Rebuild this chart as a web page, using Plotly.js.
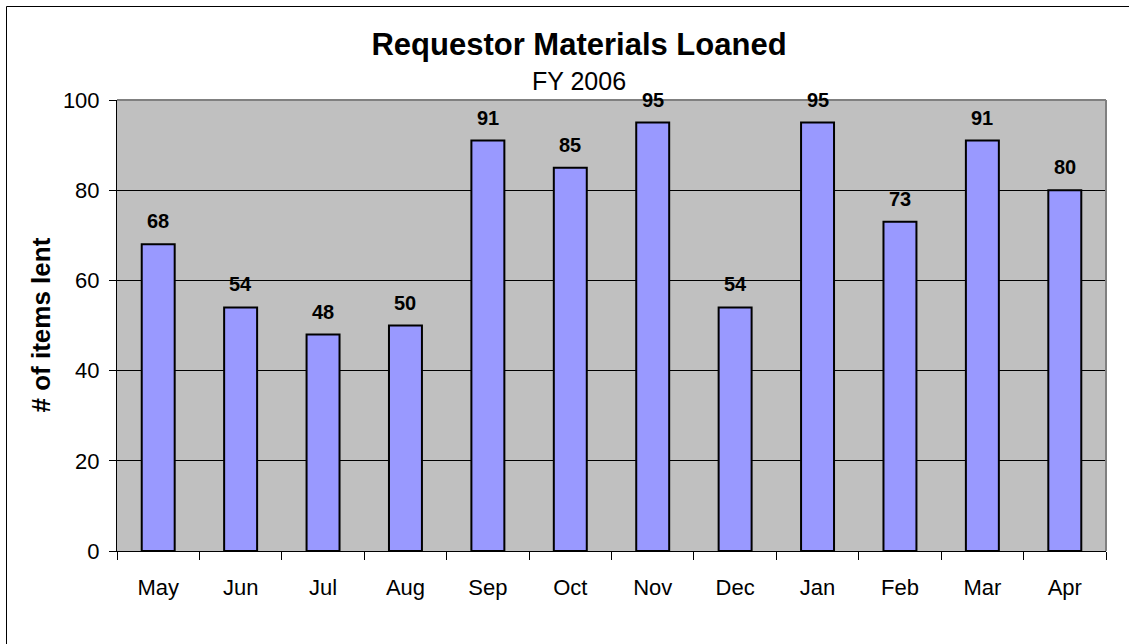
<!DOCTYPE html>
<html>
<head>
<meta charset="utf-8">
<script src="https://cdn.plot.ly/plotly-3.0.1.min.js"></script>
<style>html,body{margin:0;padding:0;background:#fff;}#chart{width:1129px;height:644px;}</style>
</head>
<body>
<div id="chart"></div>
<script>
const months = ['May','Jun','Jul','Aug','Sep','Oct','Nov','Dec','Jan','Feb','Mar','Apr'];
const itemsLent = [68,54,48,50,91,85,95,54,95,73,91,80];
const yTicks = [0,20,40,60,80,100];
const chartTitle = 'Requestor Materials Loaned';
const chartSubtitle = 'FY 2006';
const yTitle = '# of items lent';

const FONT = 'Liberation Sans, Arial, Helvetica, sans-serif';
const W = 1129, H = 644;
const M = {l:117, r:23, t:100, b:93};
const pw = W - M.l - M.r, ph = H - M.t - M.b;
function px(x){ return (x - M.l) / pw; }
function py(y){ return (H - M.b - y) / ph; }

const trace = {
  type: 'bar',
  x: months,
  y: itemsLent,
  marker: {color: '#9999FF', line: {color: '#000000', width: 2}},
  hoverinfo: 'x+y'
};

const annotations = months.map((m, i) => ({
  x: m, y: itemsLent[i], xref: 'x', yref: 'y',
  text: '<b>' + itemsLent[i] + '</b>',
  showarrow: false, yanchor: 'bottom', yshift: 10,
  font: {family: FONT, size: 20, color: '#000'}
}));
annotations.push({
  xref: 'paper', yref: 'paper', x: px(579), y: py(81), xanchor: 'center', yanchor: 'middle',
  text: chartSubtitle, showarrow: false,
  font: {family: FONT, size: 25, color: '#000'}
});
annotations.push({
  xref: 'paper', yref: 'paper', x: px(40), y: 0.5, xanchor: 'center', yanchor: 'middle',
  text: '<b>' + yTitle + '</b>', textangle: -90, showarrow: false,
  font: {family: FONT, size: 26, color: '#000'}
});

const layout = {
  width: W, height: H,
  margin: M,
  paper_bgcolor: '#ffffff',
  plot_bgcolor: '#C0C0C0',
  font: {family: FONT, size: 22, color: '#000'},
  title: {
    text: '<b>' + chartTitle + '</b>',
    xref: 'container', yref: 'container',
    x: 579 / W, xanchor: 'center',
    y: 1 - 44 / H, yanchor: 'middle',
    font: {family: FONT, size: 31, color: '#000'}
  },
  showlegend: false,
  bargap: 0.6,
  xaxis: {
    type: 'category',
    showline: true, linecolor: '#000', linewidth: 1,
    ticks: 'outside', ticklen: 8, tickcolor: '#000', tickwidth: 1,
    tickson: 'boundaries',
    ticklabelstandoff: 17,
    showgrid: false,
    tickfont: {family: FONT, size: 22, color: '#000'},
    fixedrange: true
  },
  yaxis: {
    range: [0, 100],
    tickvals: yTicks,
    showline: true, linecolor: '#000', linewidth: 1,
    ticks: 'outside', ticklen: 7, tickcolor: '#000', tickwidth: 1,
    ticklabelstandoff: 5,
    showgrid: true, gridcolor: '#000', gridwidth: 1,
    zeroline: false,
    tickfont: {family: FONT, size: 22, color: '#000'},
    fixedrange: true
  },
  annotations: annotations,
  shapes: [
    {type: 'line', xref: 'paper', yref: 'paper', x0: 0, x1: 1, y0: 1, y1: 1, layer: 'above',
     line: {color: '#808080', width: 2}},
    {type: 'line', xref: 'paper', yref: 'paper', x0: 1, x1: 1, y0: 0, y1: 1, layer: 'above',
     line: {color: '#808080', width: 2}},
    {type: 'rect', xref: 'paper', yref: 'paper', x0: px(6.5), x1: px(1160), y0: py(6.5), y1: py(680),
     layer: 'above', line: {color: '#000', width: 1}, fillcolor: 'rgba(0,0,0,0)'}
  ]
};

Plotly.newPlot('chart', [trace], layout, {displayModeBar: false, staticPlot: true});
</script>
</body>
</html>
